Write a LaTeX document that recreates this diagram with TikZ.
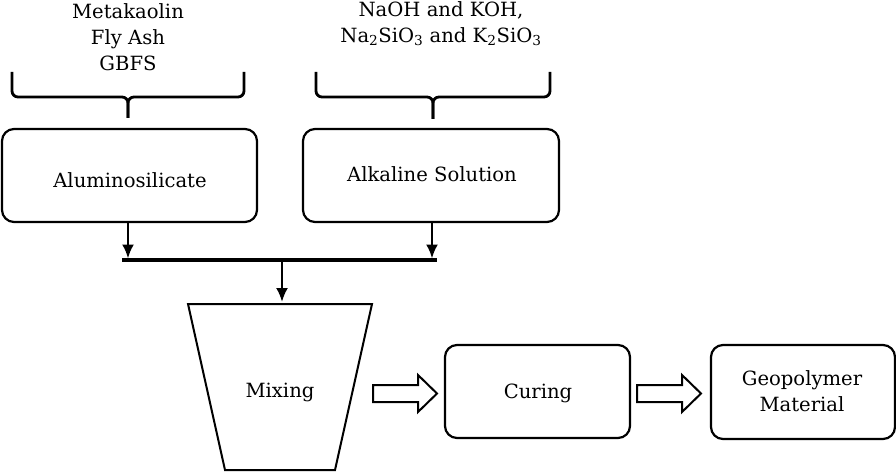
\documentclass[tikz,border=0pt]{standalone}
\usepackage{fontspec}
\setmainfont{DejaVu Serif}
\usetikzlibrary{arrows.meta}
\begin{document}
\begin{tikzpicture}[x=1pt,y=-1pt,
  txt/.style={font=\fontsize{19.6}{26}\selectfont, align=center, inner sep=0pt},
  rbox/.style={draw, line width=2.2pt, rounded corners=12pt, inner sep=0pt},
  brace/.style={line width=2.8pt, rounded corners=6pt},
  conn/.style={line width=2.4pt, -{Latex[length=14pt,width=12pt]}},
  hollow/.style={draw, line width=2pt, fill=white, line join=miter}
]
\useasboundingbox (0,0) rectangle (896,473);
% top texts
\node[txt] (mat) at (128,37) {Metakaolin\\Fly Ash\\GBFS};
\node[txt] (sol) at (441,24) {NaOH and KOH,\\Na\textsubscript{2}SiO\textsubscript{3} and K\textsubscript{2}SiO\textsubscript{3}};
% braces
\draw[brace] (12,72) -- (12,97) -- (128,97) -- (128,118);
\draw[brace] (244,72) -- (244,97) -- (128,97) -- (128,118);
\draw[brace] (316,72) -- (316,97) -- (433,97) -- (433,119);
\draw[brace] (550,72) -- (550,97) -- (433,97) -- (433,119);
% boxes
\node[rbox, minimum width=255pt, minimum height=93pt] (alu) at (129.5,175.5) {};
\node[txt] at (130,180) {Aluminosilicate};
\node[rbox, minimum width=256pt, minimum height=93pt] (alk) at (431,175.5) {};
\node[txt] at (432,174) {Alkaline Solution};
% bar
\coordinate (bl) at (122,260);
\coordinate (br) at (437,260);
\coordinate (bm) at (282,260);
\coordinate (ba) at (128,258.5);
\coordinate (bb) at (432,258.5);
\draw[line width=3.5pt] (bl) -- (br);
\draw[conn] (alu.south -| ba) -- (ba);
\draw[conn] (alk.south -| bb) -- (bb);
% trapezoid
\coordinate (mixtop) at (282,302);
\draw[line width=2pt, line join=miter] (188,304) -- (372,304) -- (335,470) -- (225,470) -- cycle;
\node[txt] (mix) at (280,392) {Mixing};
\draw[conn] (bm) -- (mixtop);
% curing
\node[rbox, minimum width=185pt, minimum height=93pt] (cur) at (537.5,391.5) {};
\node[txt] at (538,393) {Curing};
% geopolymer
\node[rbox, minimum width=184pt, minimum height=94pt] (geo) at (803,392) {};
\node[txt] at (802,391) {Geopolymer\\Material};
% hollow arrows
\draw[hollow] (373,385) -- (418,385) -- (418,375) -- (437,393.5) -- (418,412) -- (418,402) -- (373,402) -- cycle;
\draw[hollow] (637,385) -- (682,385) -- (682,375) -- (701,393.5) -- (682,412) -- (682,402) -- (637,402) -- cycle;
\end{tikzpicture}
\end{document}
